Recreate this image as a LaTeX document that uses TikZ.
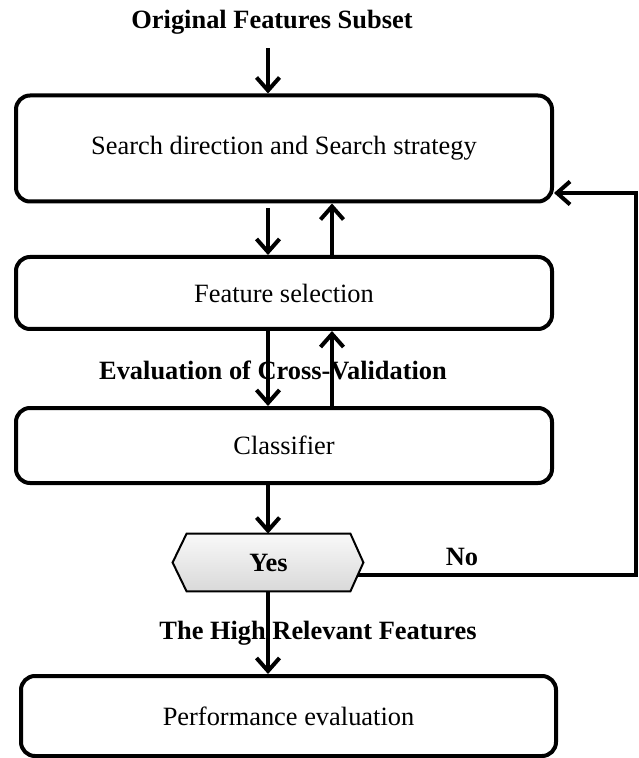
\documentclass[tikz,border=0pt]{standalone}
\usepackage{fontspec}
\setmainfont{Liberation Serif}
\usetikzlibrary{arrows.meta,calc,backgrounds}
\begin{document}
\begin{tikzpicture}[x=0.5pt,y=-0.5pt,
  font=\fontsize{13.2}{15}\selectfont,
  procbox/.style={draw, line width=2pt, rounded corners=7pt, minimum width=268pt,
    inner sep=0pt, fill=white},
  lbl/.style={font=\fontsize{13.2}{15}\selectfont\bfseries, inner sep=0pt},
  arr/.style={line width=2pt, -{Straight Barb[length=6.5pt,width=11.5pt]}},
  ]
\useasboundingbox (0,0) rectangle (638,758);
% vertical tracks of the connectors
\coordinate (cd) at (268,0);
\coordinate (cu) at (332,0);
\coordinate (cr) at (636,0);

% stages of the flow
\node[lbl] (orig) at (272,22) {Original Features Subset};
\node[procbox, minimum height=53pt] (search) at (284,148.5) {Search direction and Search strategy};
\node[procbox, minimum height=36pt] (fsel) at (284,293) {Feature selection};
\node[lbl] (eval) at (273,370) {Evaluation of Cross-Validation};
\node[procbox, minimum height=37.5pt] (clf) at (284,445.5) {Classifier};
\node[lbl, minimum width=81.5pt, minimum height=28.5pt] (yes) at (268.5,562.5) {Yes};
\node[lbl] (no) at (462,557) {No};
\node[lbl] (high) at (318,633) {The High Relevant Features};
\node[procbox, minimum height=40pt, minimum width=267.5pt] (perf) at (288.5,716) {Performance evaluation};

% decision hexagon and the "No" feedback loop, behind the labels
\begin{pgfonlayer}{background}
  \draw[arr] ([yshift=-6.25pt]yes.east) -| ([yshift=-22.25pt]search.east -| cr)
    -- ([yshift=-22.25pt]search.east);
  \shade[top color=gray!5, bottom color=gray!30, draw, line width=1pt, line join=miter]
    ([xshift=-7pt]yes.west) -- (yes.north west) -- (yes.north east)
    -- ([xshift=6.5pt]yes.east) -- (yes.south east) -- (yes.south west) -- cycle;
\end{pgfonlayer}

% connectors between the stages
\draw[arr, shorten <=7pt] (orig.south -| cd) -- (search.north -| cd);
\draw[arr, shorten <=2.5pt] (search.south -| cd) -- (fsel.north -| cd);
\draw[arr] (fsel.north -| cu) -- (search.south -| cu);
\draw[arr] (fsel.south -| cd) -- (clf.north -| cd);
\draw[arr] (clf.north -| cu) -- (fsel.south -| cu);
\draw[arr] (clf.south -| cd) -- (yes.north -| cd);
\draw[arr] (yes.south -| cd) -- (perf.north -| cd);
\end{tikzpicture}
\end{document}
